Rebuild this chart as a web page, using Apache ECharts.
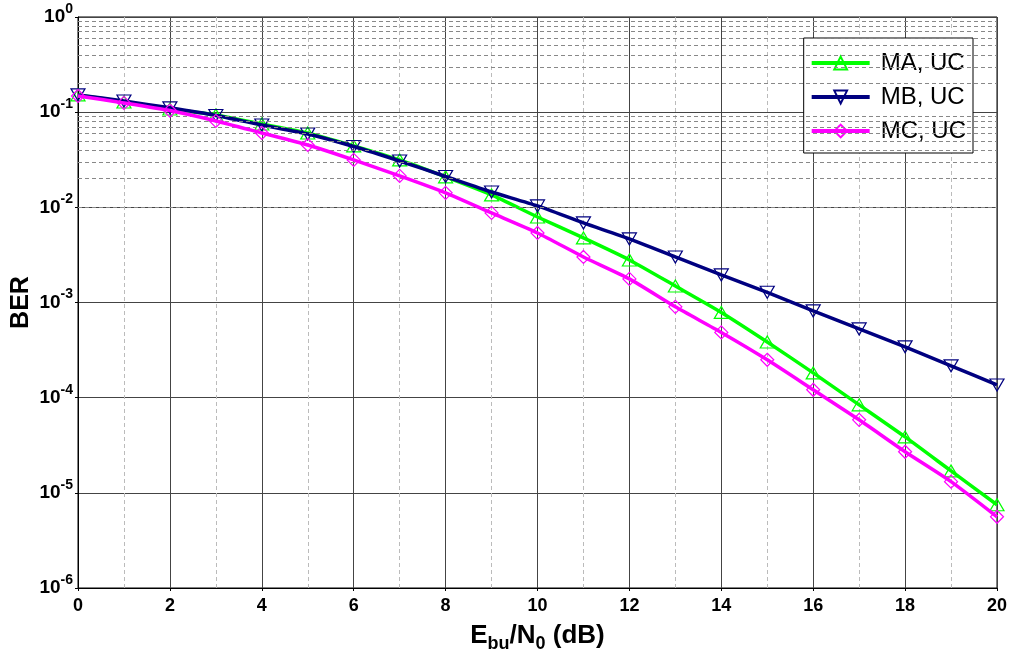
<!DOCTYPE html>
<html><head><meta charset="utf-8">
<script src="https://cdn.jsdelivr.net/npm/echarts@6/dist/echarts.min.js"></script>
<style>html,body{margin:0;padding:0;background:#fff}#c{width:1012px;height:656px}</style>
</head><body><div id="c"></div>
<script>
var xValues = [0,1,2,3,4,5,6,7,8,9,10,11,12,13,14,15,16,17,18,19,20];
var maUC = [0.152,0.128,0.108,0.0935,0.0752,0.0605,0.0442,0.0315,0.0209,0.0135,0.00792,0.00477,0.0028,0.00149,7.87e-4,3.85e-4,1.82e-4,8.4e-5,3.87e-5,1.70e-5,7.5e-6];
var mbUC = [0.152,0.131,0.111,0.0923,0.0734,0.059,0.0436,0.0307,0.0211,0.0145,0.01035,0.00686,0.00466,0.00301,0.00195,0.00128,8.16e-4,5.28e-4,3.42e-4,2.16e-4,1.36e-4];
var mcUC = [0.148,0.125,0.104,0.0809,0.0605,0.0452,0.0315,0.0214,0.0142,0.00873,0.00538,0.00301,0.00177,9.0e-4,4.85e-4,2.5e-4,1.21e-4,5.85e-5,2.7e-5,1.31e-5,5.6e-6];
var seriesNames = ['MA, UC','MB, UC','MC, UC'];
var seriesColors = ['#00ff00','#000080','#ff00ff'];
var decadeExponents = [-6,-5,-4,-3,-2,-1];
var minorMultipliers = [2,3,4,5,6,7,8,9];

function pairs(arr){ return xValues.map(function(x,i){ return [x, arr[i]]; }); }
var minorLines = [];
decadeExponents.forEach(function(e){ minorMultipliers.forEach(function(m){ minorLines.push({yAxis: m*Math.pow(10,e)}); }); });

var symUp = 'path://M5,0 L10,9 L0,9 Z';
var symDown = 'path://M0,0 L10,0 L5,9 Z';
var symDiamond = 'path://M5,0 L10,5 L5,10 L0,5 Z';
var symbols = [symUp, symDown, symDiamond];
var sizes = [[14,12],[14,12],[13,13]];
var datasets = [maUC, mbUC, mcUC];
var FF = 'Liberation Sans, Arial';

var series = [{
  type:'line', data:[], silent:true, z:1,
  markLine:{silent:true, symbol:['none','none'], label:{show:false},
    lineStyle:{type:[4,3], color:'#888', width:1}, data:minorLines, animation:false}
}];
datasets.forEach(function(d,i){
  series.push({
    name: seriesNames[i], type:'line', data: pairs(d), z: 3+i,
    symbol: symbols[i], symbolSize: sizes[i], showSymbol:true,
    lineStyle:{color: seriesColors[i], width:3.5},
    itemStyle:{color:'rgba(255,255,255,0)', borderColor: seriesColors[i], borderWidth:1.2},
    smooth: 0.2
  });
});

var chart = echarts.init(document.getElementById('c'));
chart.setOption({
  animation:false,
  backgroundColor:'#fff',
  grid:{left:78, right:15, top:17, bottom:68, show:true, borderColor:'#000', borderWidth:1, containLabel:false, outerBoundsMode:'none'},
  legend:{
    data: seriesNames, orient:'vertical', right:39, top:38,
    backgroundColor:'#fff', borderColor:'#000', borderWidth:1,
    padding:[13,7,10,6], itemWidth:58, itemHeight:16, itemGap:10,
    lineStyle:{width:4},
    textStyle:{fontFamily:FF, fontSize:24, color:'#000', padding:[0,0,0,6]}
  },
  xAxis:{
    type:'value', min:0, max:20, interval:2,
    name:'{b|E}{s|bu}{b|/N}{s|0}{b| (dB)}', nameLocation:'middle', nameGap:33,
    nameTextStyle:{rich:{
      b:{fontFamily:FF, fontWeight:'bold', fontSize:26, color:'#000', verticalAlign:'bottom', lineHeight:28},
      s:{fontFamily:FF, fontWeight:'bold', fontSize:18, color:'#000', verticalAlign:'bottom', lineHeight:22, padding:[0,0,-4,0]}
    }},
    axisLine:{lineStyle:{color:'#000', width:1}},
    axisTick:{show:true, length:3, lineStyle:{color:'#000'}},
    axisLabel:{fontFamily:FF, fontWeight:'bold', fontSize:18, color:'#000', margin:9},
    splitLine:{show:true, lineStyle:{color:'#444', width:1}},
    minorTick:{show:false, splitNumber:2},
    minorSplitLine:{show:true, lineStyle:{color:'#bbb', type:[4,3], width:1}}
  },
  yAxis:{
    type:'log', logBase:10, min:1e-6, max:1,
    name:'BER', nameLocation:'middle', nameGap:44, nameRotate:90, nameMoveOverlap:false,
    nameTextStyle:{fontFamily:FF, fontWeight:'bold', fontSize:25, color:'#000'},
    axisLine:{lineStyle:{color:'#000', width:1}},
    axisTick:{show:true, length:3, lineStyle:{color:'#000'}},
    axisLabel:{
      margin:5, fontFamily:FF, fontWeight:'bold', fontSize:19, color:'#000',
      formatter:function(v){ var e = Math.round(Math.log10(v)); return '{b|10}{s|' + e + '}'; },
      rich:{
        b:{fontFamily:FF, fontWeight:'bold', fontSize:19, color:'#000', verticalAlign:'middle', lineHeight:30},
        s:{fontFamily:FF, fontWeight:'bold', fontSize:14, color:'#000', verticalAlign:'top', lineHeight:15}
      }
    },
    splitLine:{show:true, lineStyle:{color:'#444', width:1}}
  },
  series: series
});
</script></body></html>
